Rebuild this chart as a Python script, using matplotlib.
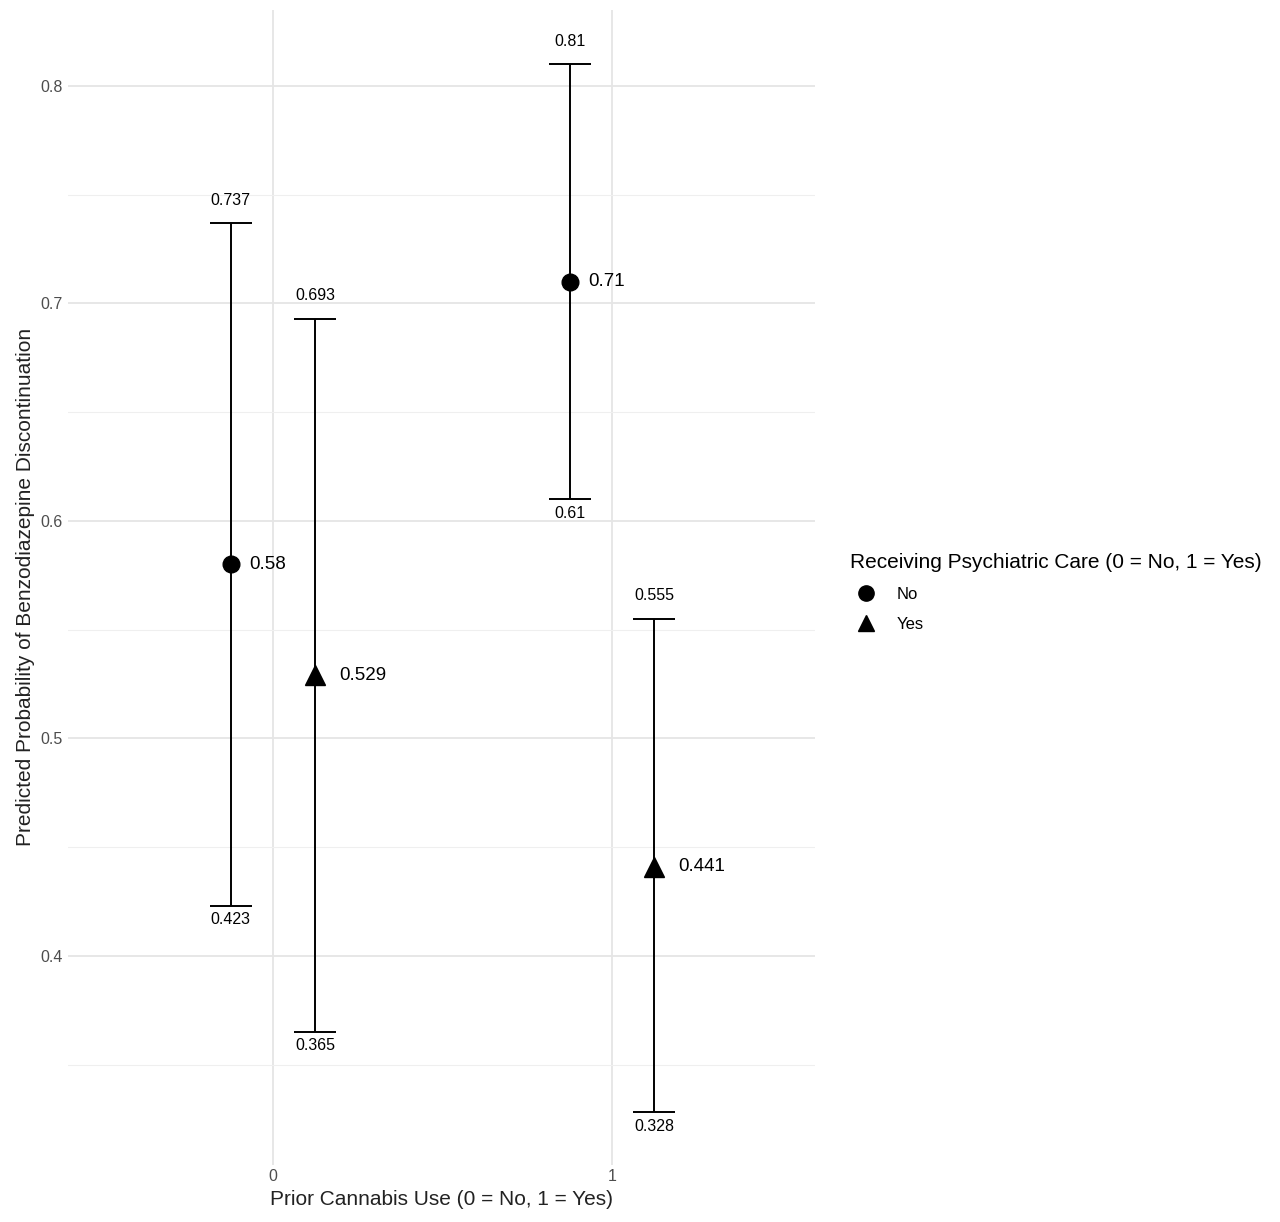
import matplotlib
matplotlib.use("Agg")
import matplotlib.pyplot as plt
from matplotlib.lines import Line2D

plt.rcParams['font.family'] = ['Liberation Sans', 'DejaVu Sans']

cannabis = [0, 0, 1, 1]
care = ["No", "Yes", "No", "Yes"]
prob = [0.58, 0.529, 0.71, 0.441]
lower = [0.423, 0.365, 0.61, 0.328]
upper = [0.737, 0.693, 0.81, 0.555]
markers = {"No": "o", "Yes": "^"}
dodge = {"No": -0.125, "Yes": 0.125}

fig = plt.figure(figsize=(12.8, 12.22), dpi=100)
ax = fig.add_axes([0.053, 0.047, 0.584, 0.945])
for c, g, p, lo, hi in zip(cannabis, care, prob, lower, upper):
    x = c + dodge[g]
    ax.errorbar(x, p, yerr=[[p - lo], [hi - p]], fmt="none", ecolor="black",
                elinewidth=1.4, capsize=15, capthick=1.4, zorder=3)
    ax.plot(x, p, marker=markers[g], color="black", markersize=12 if g == "No" else 14,
            linestyle="none", zorder=4)
    off = 0.055 if g == "No" else 0.072
    ax.text(x + off, p, f"{p:g}", fontsize=13.5, va="center", ha="left")
    ax.text(x, hi + 0.007, f"{hi:g}", fontsize=11.5, ha="center", va="bottom")
    ax.text(x, lo - 0.003, f"{lo:g}", fontsize=11.5, ha="center", va="top")

ax.set_xlim(-0.605, 1.6)
ax.set_ylim(0.304, 0.835)
ax.set_xticks([0, 1])
ax.set_xticklabels(["0", "1"])
ax.set_yticks([0.4, 0.5, 0.6, 0.7, 0.8])
ax.set_yticks([0.35, 0.45, 0.55, 0.65, 0.75], minor=True)
ax.grid(True, which="major", color="#e5e5e5", linewidth=1.3)
ax.grid(True, which="minor", axis="y", color="#efefef", linewidth=0.8)
ax.tick_params(which="both", length=0, colors="#4d4d4d", labelsize=11.5)
for s in ax.spines.values():
    s.set_visible(False)
ax.set_axisbelow(True)
ax.set_xlabel("Prior Cannabis Use (0 = No, 1 = Yes)", fontsize=15, color="#222222")
ax.set_ylabel("Predicted Probability of Benzodiazepine Discontinuation", fontsize=15, color="#222222")

handles = [Line2D([], [], marker="o", color="black", linestyle="none", markersize=11),
           Line2D([], [], marker="^", color="black", linestyle="none", markersize=12)]
fig.legend(handles, ["No", "Yes"], title="Receiving Psychiatric Care (0 = No, 1 = Yes)",
           loc="upper left", bbox_to_anchor=(0.652, 0.56), frameon=False,
           fontsize=12, title_fontsize=15, alignment="left", handletextpad=0.8,
           labelspacing=0.9)
fig.savefig("out.png", dpi=100)
